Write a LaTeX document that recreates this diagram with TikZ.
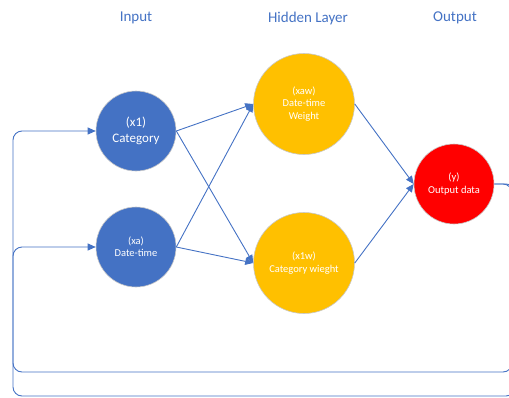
\documentclass[tikz,border=0pt]{standalone}
\usepackage{fontspec}
\setmainfont{Carlito}
\usetikzlibrary{arrows.meta}
\definecolor{nblue}{HTML}{4472C4}
\definecolor{nyellow}{HTML}{FFC000}
\definecolor{nred}{HTML}{FF0000}
\definecolor{nrim}{HTML}{C8C8C8}
\tikzset{
  neuron/.style={circle, draw=nrim, line width=0.6pt, inner sep=0pt, text=white, align=center},
  inneuron/.style={neuron, fill=nblue, minimum size=80pt},
  hidneuron/.style={neuron, fill=nyellow, minimum size=101pt, font=\fontsize{10.5}{12.3}\selectfont},
  outneuron/.style={neuron, fill=nred, minimum size=80pt, font=\fontsize{10.5}{12.3}\selectfont},
  layertitle/.style={text=nblue, font=\fontsize{15}{18}\selectfont},
  conn/.style={draw=nblue, line width=0.9pt, -{Triangle[length=8pt,width=7pt]}},
  loopline/.style={draw=nblue, line width=0.9pt, rounded corners=9pt, -{Triangle[length=8pt,width=7pt]}}
}
\begin{document}
\begin{tikzpicture}[x=1pt,y=-1pt]
\useasboundingbox (0,0) rectangle (509,397);
\clip (0,0) rectangle (509,397);
% titles
\node[layertitle] (tin) at (136,18) {Input};
\node[layertitle] (thid) at (308,18) {Hidden Layer};
\node[layertitle] (tout) at (455,18) {Output};
% neurons
\node[inneuron, font=\fontsize{13}{15.7}\selectfont] (x1) at (136,131) {(x1)\\Category};
\node[inneuron, font=\fontsize{10.5}{12.3}\selectfont] (xa) at (136,247) {(xa)\\Date-time};
\node[hidneuron] (xaw) at (304,104) {(xaw)\\Date-time\\Weight};
\node[hidneuron] (x1w) at (304,263) {(x1w)\\Category wieght};
\node[outneuron] (y) at (454,184) {(y)\\Output data};
% feed-forward connectors
\draw[conn] (x1.east) -- (xaw.west);
\draw[conn] (x1.east) -- (x1w.west);
\draw[conn] (xa.east) -- (xaw.west);
\draw[conn] (xa.east) -- (x1w.west);
\draw[conn] (xaw.east) -- (y.west);
\draw[conn] (x1w.east) -- (y.west);
% feedback loops
\coordinate (ra) at (512,184);
\coordinate (rb) at (512,372);
\coordinate (lb) at (13,372);
\coordinate (la) at (13,247);
\draw[loopline] (y.east) -- (ra) -- (rb) -- (lb) -- (la) -- (xa.west);
\coordinate (rc) at (515,184);
\coordinate (rd) at (515,396);
\coordinate (ld) at (13,396);
\coordinate (lc) at (13,131);
\draw[loopline] (y.east) -- (rc) -- (rd) -- (ld) -- (lc) -- (x1.west);
\end{tikzpicture}
\end{document}
